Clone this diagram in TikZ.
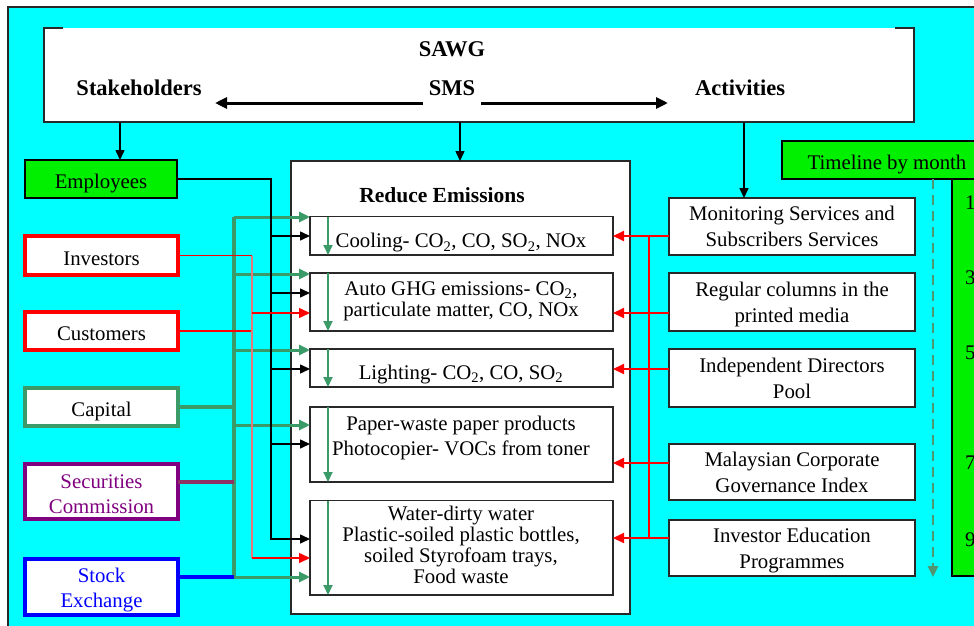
\documentclass[tikz,border=0pt]{standalone}
\usepackage{fontspec}
\setmainfont{Liberation Serif}
\usetikzlibrary{arrows.meta}
\definecolor{bgcyan}{RGB}{0,255,255}
\definecolor{lime}{RGB}{0,240,0}
\definecolor{seagrn}{RGB}{58,155,105}
\definecolor{dashgrn}{RGB}{80,150,115}
\definecolor{plum}{RGB}{128,0,128}
\definecolor{plumline}{RGB}{140,50,100}
\definecolor{pinkline}{RGB}{230,120,120}
\definecolor{boxgray}{RGB}{40,40,40}
\begin{document}
\begin{tikzpicture}[x=1pt,y=-1pt,
  every node/.style={inner sep=0pt,outer sep=0pt},
  txt/.style={font=\fontsize{20.8}{25.5}\selectfont,align=center,text=black},
  tight/.style={font=\fontsize{20.8}{21.2}\selectfont},
  oneline/.style={text height=19.5pt,text depth=0pt},
  head/.style={font=\fontsize{22.5}{27}\selectfont\bfseries,text=black},
  plainbox/.style={draw=boxgray,line width=1.3pt,fill=white},
  stakebox/.style={fill=white,line width=4.2pt,minimum width=153pt,txt},
  ibox/.style={plainbox,minimum width=303pt},
  abox/.style={plainbox,minimum width=246pt,txt,font=\fontsize{20.8}{26}\selectfont,text depth=0pt},
  ktip/.style={-{Triangle[length=10pt,width=9pt]}},
  kline/.style={draw=black,line width=1.5pt},
  karrow/.style={kline,ktip},
  rthin/.style={draw=red,line width=1.4pt},
  rarrow/.style={draw=red,line width=2pt,-{Triangle[length=11pt,width=10pt]}},
  garrow/.style={draw=seagrn,line width=3pt,-{Triangle[length=11pt,width=10pt]}},
  innerarrow/.style={draw=seagrn,line width=2pt,-{Triangle[length=10pt,width=9pt]}},
  bigarrow/.style={draw=black,line width=3pt,-{Triangle[length=12pt,width=11pt]}}
]
\useasboundingbox (0,0) rectangle (974,626);
\clip (0,0) rectangle (974,626);

% background frame
\draw[fill=bgcyan,draw=boxgray,line width=1.5pt] (8,7) rectangle (995,645);

% SAWG header box (top edge shows only corner stubs)
\node[fill=white,minimum width=870pt,minimum height=94pt] (sawg) at (479,75) {};
\draw[boxgray,line width=1.5pt] ([xshift=19pt]sawg.north west) -- (sawg.north west)
  -- (sawg.south west) -- (sawg.south east) -- (sawg.north east)
  -- ([xshift=-19pt]sawg.north east);
\node[head] (sawgT) at (452,49) {SAWG};
\node[head] (stakeT) at (139,88) {Stakeholders};
\node[head] (smsT) at (452,88) {SMS};
\node[head] (actT) at (740,88) {Activities};
\coordinate (smsL) at (423,103);
\coordinate (smsR) at (481,103);
\coordinate (stakeR) at (215,103);
\coordinate (actL) at (668,103);
\draw[bigarrow] (smsL) -- (stakeR);
\draw[bigarrow] (smsR) -- (actL);

% stakeholders
\node[plainbox,fill=lime,draw=black,minimum width=152pt,minimum height=38pt,txt,oneline] (emp) at (101,179) {Employees};
\node[stakebox,draw=red,minimum height=39pt,oneline] (inv) at (101.5,255.5) {Investors};
\node[stakebox,draw=red,minimum height=38pt,oneline] (cus) at (101.5,331) {Customers};
\node[stakebox,draw=seagrn,minimum height=38pt,oneline] (cap) at (101.5,407) {Capital};
\node[stakebox,draw=plum,minimum height=55pt,text=plum,text height=44pt,text depth=0pt] (sec) at (101.5,491.5) {Securities\\Commission};
\node[stakebox,draw=blue,minimum height=56pt,text=blue,text height=41pt,text depth=0pt] (stk) at (101.5,587) {Stock\\Exchange};

% reduce emissions panel
\node[plainbox,line width=1.5pt,minimum width=339pt,minimum height=453pt] (reduce) at (460.5,387.5) {};
\node[head,font=\fontsize{21.5}{26}\selectfont\bfseries] (redT) at (442,195) {Reduce Emissions};

\node[ibox,minimum height=38.5pt] (cool) at (461.5,235.75) {};
\node[ibox,minimum height=58pt] (auto) at (461.5,302) {};
\node[ibox,minimum height=38pt] (light) at (461.5,368) {};
\node[ibox,minimum height=75pt] (paper) at (461.5,444.5) {};
\node[ibox,minimum height=94.5pt] (water) at (461.5,547.75) {};

\node[txt] (coolT) at (461,243) {Cooling- CO\textsubscript{2}, CO, SO\textsubscript{2}, NOx};
\node[txt,tight] (autoT) at (461,301) {Auto GHG emissions- CO\textsubscript{2},\\particulate matter, CO, NOx};
\node[txt] (lightT) at (461,374.5) {Lighting- CO\textsubscript{2}, CO, SO\textsubscript{2}};
\node[txt] (paperT) at (461,438) {Paper-waste paper products\\Photocopier- VOCs from toner};
\node[txt,tight] (waterT) at (461,545) {Water-dirty water\\Plastic-soiled plastic bottles,\\soiled Styrofoam trays,\\Food waste};

\foreach \b in {cool,auto,light,paper,water}
  \draw[innerarrow] (\b.north -| 328,0) -- (\b.south -| 328,0);

% activities
\node[abox,minimum height=57pt] (mon) at (792,226.5) {Monitoring Services and\\Subscribers Services};
\node[abox,minimum height=58pt] (reg) at (792,302) {Regular columns in the\\printed media};
\node[abox,minimum height=58pt] (ind) at (792,378) {Independent Directors\\Pool};
\node[abox,minimum height=56pt] (mal) at (792,472) {Malaysian Corporate\\Governance Index};
\node[abox,minimum height=56pt] (ied) at (792,548) {Investor Education\\Programmes};

% feeds from the header
\draw[karrow] (sawg.south -| 120,0) -- (emp.north -| 120,0);
\draw[karrow] (sawg.south -| 460,0) -- (reduce.north -| 460,0);
\draw[karrow] (sawg.south -| 744,0) -- (mon.north -| 744,0);

% capital / regulator bus (green)
\draw[seagrn,line width=3.5pt] (234,217) -- (234,577);
\draw[seagrn,line width=3.5pt] (cap.east) -- (cap.east -| 234,0);
\draw[plumline,line width=4pt] (sec.east |- 0,482) -- (234,482);
\draw[blue,line width=4.5pt] (stk.east |- 0,577) -- (234,577);
\draw[garrow] (234,217) -- (cool.west |- 0,217);
\draw[garrow] (234,274) -- (auto.west |- 0,274);
\draw[garrow] (234,350) -- (light.west |- 0,350);
\draw[garrow] (234,425) -- (paper.west |- 0,425);
\draw[garrow] (234,577) -- (water.west |- 0,577);

% employees bus (black)
\draw[kline,ktip] (emp.east) -| (271,539) -- (water.west |- 0,539);
\draw[karrow] (271,236) -- (cool.west |- 0,236);
\draw[karrow] (271,293) -- (auto.west |- 0,293);
\draw[karrow] (271,369) -- (light.west |- 0,369);
\draw[karrow] (271,444) -- (paper.west |- 0,444);

% investors / customers bus (red)
\draw[rthin] (inv.east) -- (252,255.5);
\draw[rthin] (cus.east) -- (252,331);
\draw[pinkline,line width=1.6pt] (252,255.5) -- (252,558);
\draw[rarrow,line width=1.5pt] (252,313) -- (auto.west |- 0,313);
\draw[rarrow,line width=1.5pt] (252,558) -- (water.west |- 0,558);

% activities bus (red)
\draw[red,line width=2pt] (649,236) -- (649,538);
\draw[rarrow] (mon.west |- 0,236) -- (cool.east |- 0,236);
\draw[rarrow] (reg.west |- 0,313) -- (auto.east |- 0,313);
\draw[rarrow] (ind.west |- 0,369) -- (light.east |- 0,369);
\draw[rarrow] (mal.west |- 0,463) -- (paper.east |- 0,463);
\draw[rarrow] (ied.west |- 0,538) -- (water.east |- 0,538);

% timeline
\node[plainbox,fill=lime,draw=black,anchor=north west,minimum width=220pt,minimum height=38pt] (tl) at (782,141) {};
\node[txt,oneline] (tlT) at (887,160) {Timeline by month};
\node[plainbox,fill=lime,draw=black,anchor=north west,minimum width=60pt,minimum height=397pt] (col) at (952,179) {};
\node[txt,anchor=base west] (m1) at (965,209) {1};
\node[txt,anchor=base west] (m3) at (965,284) {3};
\node[txt,anchor=base west] (m5) at (965,359) {5};
\node[txt,anchor=base west] (m7) at (965,469) {7};
\node[txt,anchor=base west] (m9) at (965,546) {9};
\draw[dashgrn,line width=2.5pt,dash pattern=on 10pt off 6pt,-{Triangle[length=11pt,width=10pt]}] (tl.south -| 933,0) -- (933,577);
\end{tikzpicture}
\end{document}
